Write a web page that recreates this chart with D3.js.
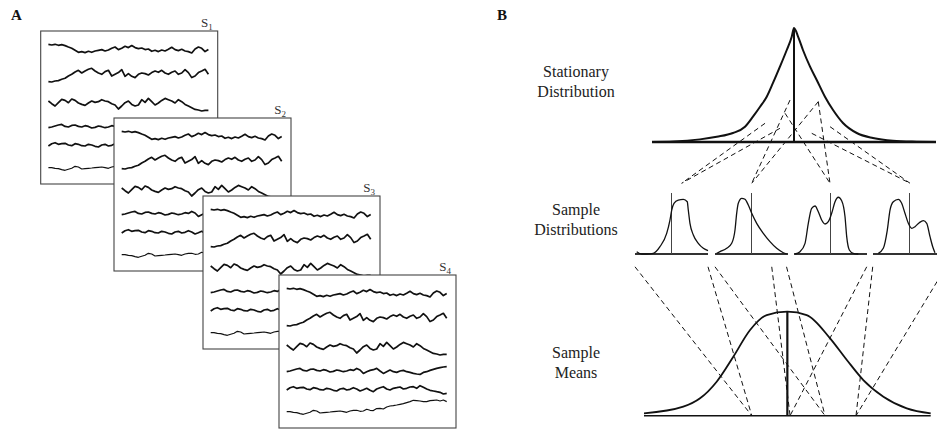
<!DOCTYPE html>
<html><head><meta charset="utf-8">
<script src="https://cdn.jsdelivr.net/npm/d3@7"></script>
<style>body{margin:0;background:#fff}svg{display:block}text{font-family:"Liberation Serif","Times New Roman",serif}</style>
</head><body><svg id="c" width="937" height="430"></svg>
<script>
// ---------------- DATA ----------------
// Panel A: subjects and six recorded traces (upward displacement, shared across subjects)
const subjects = ["1", "2", "3", "4"];
const trace1 = [4,3.3,4,3,3.7,2.7,1.3,0,-2,-4,-3.3,-4.3,-3,-4,-2.7,-2,-1.3,-2.7,-1.7,0,1.3,-1.3,0,2,0.7,2.7,0.7,-0.3,0.3,-1.3,-0.7,-3,-2,-3.3,-1.7,-2.7,-1,1,-1.3,-2.3,-1,-2.7,-3.3,-4.7,-0.7,1.3,0,-3.3,-1.3];
const trace2 = [-7.3,-7.7,-6.7,-6.3,-5,-4,-1.7,0,2.3,4,1.3,3.3,5,6,3.3,1.3,0,2.7,4,-1.7,0,1.7,4.7,-2,0.7,-2,-3.3,0,1.3,0.7,-0.7,1.7,3.3,2,4,1.3,0,2,3.3,0,1.3,4.7,1.7,-3.3,-1.7,1.7,3.3,5,0];
const trace3 = [2.7,0,-2.3,1,4.3,3.3,1,4.7,3.3,0.7,-0.7,-1.7,0.7,2.7,1.3,2,4,2.7,2,0,-1.3,-5.3,-2.3,1,2.7,-0.7,-2.3,-1.3,4,1.3,5.3,2,-1.3,0.7,3.3,5.3,4,2.7,0.7,4,2,-0.7,-2.3,-4,-5.7,-6.3,-7.3,-6.7,-6.7];
const trace4 = [-1,-0.3,0.7,1.7,2.3,0.3,-0.3,1.3,1.7,0.3,-0.3,1,0.3,-1.3,-0.7,0.7,0,-1,-0.3,1,0.3,2.3,0.7,-2.7,-1,0.3,1,2.3,-0.3,-2.7,-1,0.7,-1,-1.7,-0.3,0.3,-1,-1.7,-2.7,-3.3,-3.7,-1.7,-1,0.3,1.3,2.3,3,3.7,4];
const trace5 = [-1,1.3,2.3,0.7,1.3,1.7,0,-0.7,1.3,0.7,-0.7,-1,0.7,0,-1.3,-2,0,0.7,-1,-0.3,1.3,0,-2,-0.7,0.7,-1.3,-2.7,0,1.3,2.3,0,-1,0.7,1.3,2,0,0.7,2,2.3,0.7,3.3,1.7,0,-1.3,-2,-2.7,-3.3,-5,-4.3];
const trace6 = [-3.3,-3.3,-4,-4.3,-5.3,-6,-5,-4,-2,-2.7,-4.7,-4.3,-4,-3.7,-3.3,-3,-2.7,-3.3,-4,-2.7,-2,-2,-3,-2.7,-1,-2,-2.3,-0.3,0,-0.7,1.3,2.3,2.7,3.3,4,4.7,5.7,6.7,8,7.7,7.3,6.7,6.7,7.7,8,8.3,7.3,8.3,6.7];
const traces = [trace1, trace2, trace3, trace4, trace5, trace6];

// Panel B: stationary distribution (value, density)
const statX = [-1,-0.85,-0.662,-0.544,-0.43,-0.345,-0.289,-0.239,-0.192,-0.148,-0.099,-0.051,-0.016,0,0.03,0.063,0.113,0.16,0.218,0.275,0.345,0.442,0.556,0.697,0.864,1];
const statY = [0,0.004,0.023,0.046,0.079,0.134,0.222,0.309,0.397,0.518,0.661,0.807,0.924,1,0.921,0.807,0.661,0.544,0.397,0.281,0.167,0.079,0.035,0.011,0.003,0];

// Sample distributions (value 0-100, density 0-100)
const samp1X = [2.3,9.2,16,25.1,34.2,43.4,47.9,50.3,53.4,59.3,66.2,71.6,73,75.3,79.9,86.7,93.6,100];
const samp1Y = [3.8,0,0,1.1,12,33.9,55.7,72.1,83.1,88.5,89.7,85.7,72.1,50.3,31.1,17.5,9.3,5.4];
const samp2X = [2.3,6.8,16,22.9,27.4,29.7,31.9,36.6,41.1,45.6,50.3,57.1,66.2,75.3,84.5,93.6,98.2];
const samp2Y = [1.1,3.8,9.3,17.5,39.3,66.7,83.1,91.3,89.7,80.3,66.7,50.3,33.9,20.2,9.3,2.1,0];
const samp3X = [1.4,8.2,15.1,19.6,24.2,28.8,33.3,37.9,42.5,47,51.6,56.2,60.7,65.3,69.9,72.2,75.8,81.2,88.1];
const samp3Y = [0,3.8,17.5,50.3,74.9,78.7,69.3,55.7,49.2,53,66.7,85.7,93,87.4,61.1,28.4,6.6,1.1,0];
const samp4X = [7.3,14.1,19.6,23.3,27.8,34.7,39.3,43.8,48.4,53,57.5,63.4,68.9,73.6,78.1,81.8,84.9];
const samp4Y = [1.1,9.3,39.3,72.1,85.7,89.7,83.1,66.7,50.3,42.1,44.8,51.3,54.6,50.3,28.4,12,2.1];
const sampX = [samp1X, samp2X, samp3X, samp4X];
const sampY = [samp1Y, samp2Y, samp3Y, samp4Y];
const sampMarker = [50, 50, 50, 50];

// Sample means distribution
const meanX = [-1,-0.726,-0.609,-0.493,-0.377,-0.26,-0.144,0,0.135,0.298,0.415,0.53,0.67,0.833,1];
const meanY = [0.023,0.087,0.167,0.327,0.567,0.824,0.968,1,0.968,0.744,0.536,0.343,0.183,0.071,0.023];

// Draws from the stationary distribution to each sample (value, density, sample index)
const drawU = [-0.204,-0.099,-0.028,0.171,-0.063,0.171,0.125,0.254];
const drawD = [0.164,0.12,0.368,0.354,0.252,0.354,0.076,0.134];
const drawSample = [0,0,1,1,2,2,3,3];
const sampleApexU = [64, 50.3, 49.3, 50.7];
const sampleApexD = 116;

// Each sample's range feeding its mean
const sampLoU = [0, 0, -30.5, -0.4];
const sampHiU = [100, 98, 99.6, 100];
const sampStartD = -21;
const sampMeanU = [-0.248, 0.263, 0.019, 0.479];

// ---------------- LAYOUT ----------------
const svg = d3.select("#c");
const ink = "#111";

// Panel A
svg.append("text").attr("x", 11).attr("y", 20).attr("font-size", 15).attr("font-weight", "bold").attr("fill", ink).text("A");
const boxes = [{x:40.7,y:31},{x:114,y:118},{x:203,y:196},{x:279,y:275}];
const boxW = 177, boxH = 153;
const traceCenters = [17.3, 43.3, 72.7, 95.7, 114, 133.3];

subjects.forEach((s, k) => {
  const b = boxes[k];
  const g = svg.append("g");
  g.append("rect").attr("x", b.x).attr("y", b.y).attr("width", boxW).attr("height", boxH)
    .attr("fill", "#fff").attr("stroke", "#444").attr("stroke-width", 1.1);
  const t = g.append("text").attr("x", b.x + boxW - 5).attr("y", b.y - 4)
    .attr("text-anchor", "end").attr("font-size", 13).attr("fill", "#333");
  t.append("tspan").text("S");
  t.append("tspan").attr("font-size", 9).attr("dy", 3).text(s);
  traces.forEach((tr, j) => {
    const xs = d3.scaleLinear().domain([0, tr.length - 1]).range([b.x + 7.7, b.x + 167.7]);
    const cy = b.y + traceCenters[j];
    const ys = d3.scaleLinear().domain([-10, 10]).range([cy + 10, cy - 10]);
    g.append("path").attr("d", d3.line().x((d, i) => xs(i)).y(d => ys(d))(tr))
      .attr("fill", "none").attr("stroke", ink).attr("stroke-width", j === 5 ? 1.2 : 1.7)
      .attr("stroke-linejoin", "round");
  });
});

// Panel B
svg.append("text").attr("x", 497).attr("y", 20).attr("font-size", 15).attr("font-weight", "bold").attr("fill", ink).text("B");

function label(lines, x, y) {
  const t = svg.append("text").attr("x", x).attr("y", y).attr("text-anchor", "middle")
    .attr("font-size", 16).attr("fill", "#222");
  lines.forEach((l, i) => t.append("tspan").attr("x", x).attr("dy", i ? 20 : 0).text(l));
}
label(["Stationary", "Distribution"], 576, 77);
label(["Sample", "Distributions"], 576, 215);
label(["Sample", "Means"], 576, 358);

// Stationary
const sx = d3.scaleLinear().domain([-1, 1]).range([652, 936]);
const sy = d3.scaleLinear().domain([0, 1]).range([142, 28]);
// Samples
const pLeft = [635, 715, 794, 873], pW = 73;
const px = pLeft.map(l => d3.scaleLinear().domain([0, 100]).range([l, l + pW]));
const py = d3.scaleLinear().domain([0, 100]).range([254, 193]);
// Means
const mx = d3.scaleLinear().domain([-1, 1]).range([644, 930.7]);
const my = d3.scaleLinear().domain([0, 1]).range([415.7, 311.7]);

const dash = "5,3.5";
// dashed draws: stationary -> samples
drawU.forEach((u, i) => {
  const k = drawSample[i];
  svg.append("line").attr("x1", sx(u)).attr("y1", sy(drawD[i]))
    .attr("x2", px[k](sampleApexU[k])).attr("y2", py(sampleApexD))
    .attr("stroke", ink).attr("stroke-width", 1).attr("stroke-dasharray", dash);
});
// dashed: samples -> means
sampMeanU.forEach((m, k) => {
  [sampLoU[k], sampHiU[k]].forEach(u => {
    svg.append("line").attr("x1", px[k](u)).attr("y1", py(sampStartD))
      .attr("x2", mx(m)).attr("y2", my(0))
      .attr("stroke", ink).attr("stroke-width", 1).attr("stroke-dasharray", dash);
  });
});

// Stationary distribution
const statPts = statX.map((x, i) => [x, statY[i]]);
svg.append("path").attr("d", d3.line().x(d => sx(d[0])).y(d => sy(d[1])).curve(d3.curveMonotoneX)(statPts))
  .attr("fill", "none").attr("stroke", ink).attr("stroke-width", 2);
svg.append("line").attr("x1", sx(-1)).attr("x2", sx(1)).attr("y1", sy(0)).attr("y2", sy(0))
  .attr("stroke", ink).attr("stroke-width", 2.3);
svg.append("line").attr("x1", sx(0)).attr("x2", sx(0)).attr("y1", sy(0)).attr("y2", sy(1))
  .attr("stroke", ink).attr("stroke-width", 2);

// Sample distributions
sampX.forEach((xsArr, k) => {
  const pts = xsArr.map((x, i) => [x, sampY[k][i]]);
  svg.append("line").attr("x1", px[k](0)).attr("x2", px[k](100)).attr("y1", py(0)).attr("y2", py(0))
    .attr("stroke", "#333").attr("stroke-width", 1.8);
  svg.append("line").attr("x1", px[k](sampMarker[k])).attr("x2", px[k](sampMarker[k]))
    .attr("y1", py(0)).attr("y2", py(100)).attr("stroke", "#444").attr("stroke-width", 1);
  svg.append("path").attr("d", d3.line().x(d => px[k](d[0])).y(d => py(d[1])).curve(d3.curveMonotoneX)(pts))
    .attr("fill", "none").attr("stroke", ink).attr("stroke-width", 1.3);
});

// Sample means
const meanPts = meanX.map((x, i) => [x, meanY[i]]);
svg.append("path").attr("d", d3.line().x(d => mx(d[0])).y(d => my(d[1])).curve(d3.curveMonotoneX)(meanPts))
  .attr("fill", "none").attr("stroke", ink).attr("stroke-width", 1.8);
svg.append("line").attr("x1", mx(-1)).attr("x2", mx(1)).attr("y1", my(0)).attr("y2", my(0))
  .attr("stroke", ink).attr("stroke-width", 1.5);
svg.append("line").attr("x1", mx(0)).attr("x2", mx(0)).attr("y1", my(0)).attr("y2", my(1))
  .attr("stroke", ink).attr("stroke-width", 2.2);
</script></body></html>
